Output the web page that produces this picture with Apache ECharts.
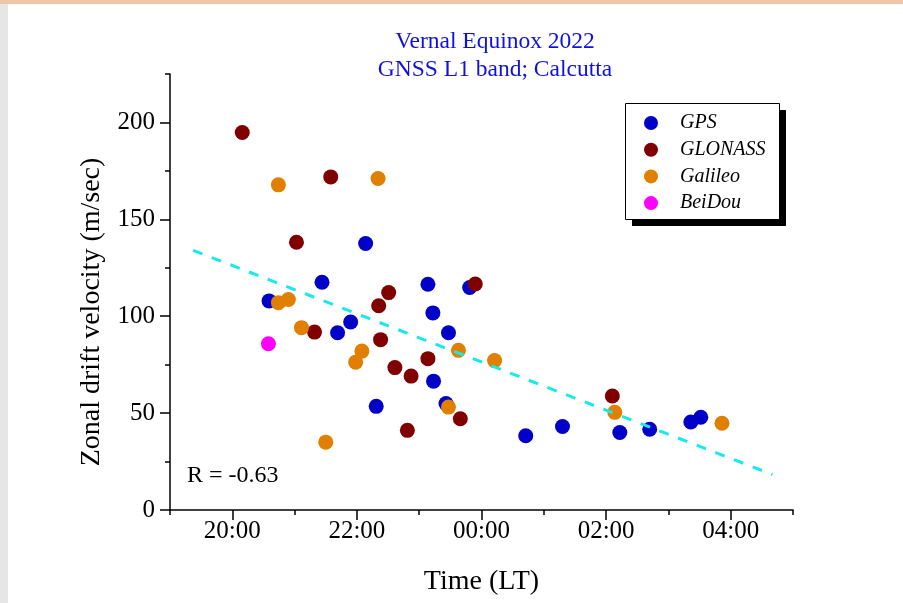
<!DOCTYPE html>
<html>
<head>
<meta charset="utf-8">
<title>Vernal Equinox 2022 — Zonal drift velocity</title>
<script src="https://cdn.jsdelivr.net/npm/echarts@6/dist/echarts.min.js"></script>
<style>
  html, body { margin: 0; padding: 0; background: #ffffff; }
  #wrap { position: relative; width: 903px; height: 603px; overflow: hidden; }
  #chart { position: absolute; left: 0; top: 0; width: 903px; height: 603px; }
  .band-top { position: absolute; left: 0; top: 0; width: 903px; height: 4px; background: #efc6a6; }
  .band-left { position: absolute; left: 0; top: 4px; width: 8px; height: 599px; background: #e6e6e6; }
</style>
</head>
<body>
<div id="wrap">
  <div id="chart"></div>
  <div class="band-top"></div>
  <div class="band-left"></div>
</div>
<script>
// Local time in decimal hours; values past midnight continue as 24, 25, ...
const gpsTime = [20.59, 21.44, 22.14, 21.69, 21.90, 22.31, 23.14, 23.22, 23.47, 23.23, 23.43, 23.81, 24.71, 25.30, 26.22, 26.70, 27.36, 27.52];
const gpsVel  = [107.9, 117.5, 137.5, 91.5, 97.0, 53.5, 116.5, 101.7, 91.5, 66.5, 54.9, 114.8, 38.3, 43.1, 40.0, 41.7, 45.4, 47.9];

const glonassTime = [20.16, 21.58, 21.03, 22.51, 22.35, 22.38, 21.32, 22.61, 22.87, 23.14, 22.81, 23.66, 23.90, 26.10];
const glonassVel  = [194.8, 171.9, 138.2, 112.2, 105.4, 87.9, 91.8, 73.5, 69.1, 78.1, 41.1, 47.1, 116.6, 58.8];

const galileoTime = [20.74, 22.34, 20.74, 20.90, 21.11, 22.08, 21.98, 23.63, 24.21, 23.47, 21.50, 26.14, 27.86];
const galileoVel  = [167.8, 171.1, 107.0, 108.6, 94.1, 82.0, 76.3, 82.4, 77.1, 53.1, 35.0, 50.4, 44.8];

const beidouTime = [20.58];
const beidouVel  = [85.8];

// Least-squares trend line end points
const trendTime = [19.37, 28.67];
const trendVel  = [134.0, 18.3];

// Axis ticks
const xMajorTicks = [20, 22, 24, 26, 28];
const xMinorTicks = [19, 21, 23, 25, 27, 29];
const yMajorTicks = [0, 50, 100, 150, 200];
const yMinorTicks = [25, 75, 125, 175, 225];

const correlationLabel = 'R = -0.63';

const SERIF = '"Liberation Serif", "DejaVu Serif", serif';

function pairs(xs, ys) { return xs.map((x, i) => [x, ys[i]]); }
function hourLabel(v) {
  const h = ((Math.round(v) % 24) + 24) % 24;
  return (h < 10 ? '0' : '') + h + ':00';
}

const chart = echarts.init(document.getElementById('chart'), null, { renderer: 'canvas' });

const axisLineStyle = { color: '#000', width: 1.5 };

const dot = (name, color, xs, ys, z) => ({
  name, type: 'scatter', symbol: 'circle', symbolSize: 15,
  xAxisIndex: 0, yAxisIndex: 0, z,
  itemStyle: { color, opacity: 1 },
  data: pairs(xs, ys)
});

// Legend frame geometry (box plus solid drop shadow)
const LEGEND_BOX = { x: 625, y: 103, w: 154, h: 116 };
const SHADOW_OFFSET = 7;

chart.setOption({
  animation: false,
  backgroundColor: 'transparent',
  title: {
    text: 'Vernal Equinox 2022\nGNSS L1 band; Calcutta',
    left: 490, top: 23, textAlign: 'center',
    textStyle: { fontFamily: SERIF, fontSize: 23.5, fontWeight: 'normal', color: '#1010e0', lineHeight: 28 }
  },
  grid: { left: 170, top: 74, width: 623, height: 436, containLabel: false },
  legend: {
    data: ['GPS', 'GLONASS', 'Galileo', 'BeiDou'],
    orient: 'vertical', left: LEGEND_BOX.x, top: LEGEND_BOX.y + 1,
    padding: [9, 12, 5, 19], itemGap: 6.7,
    itemWidth: 14, itemHeight: 14, icon: 'circle',
    backgroundColor: 'transparent', borderWidth: 0,
    textStyle: { fontFamily: SERIF, fontStyle: 'italic', fontSize: 20, color: '#000', lineHeight: 20, padding: [0, 0, 0, 17] }
  },
  xAxis: [{
    type: 'value', min: 19, max: 29, position: 'bottom',
    axisLine: { show: true, onZero: false, lineStyle: axisLineStyle },
    axisTick: { show: true, length: 10, customValues: xMajorTicks, lineStyle: axisLineStyle },
    axisLabel: { customValues: xMajorTicks, formatter: hourLabel, margin: 9, fontFamily: SERIF, fontSize: 25, color: '#000' },
    splitLine: { show: false },
    name: 'Time (LT)', nameLocation: 'middle', nameGap: 58,
    nameTextStyle: { fontFamily: SERIF, fontSize: 28, color: '#000' }
  }, {
    type: 'value', min: 19, max: 29, position: 'bottom', offset: 0,
    axisLine: { show: false },
    axisTick: { show: true, length: 5, customValues: xMinorTicks, lineStyle: axisLineStyle },
    axisLabel: { show: false },
    splitLine: { show: false }
  }],
  yAxis: [{
    type: 'value', min: 0, max: 225, position: 'left',
    axisLine: { show: true, onZero: false, lineStyle: axisLineStyle },
    axisTick: { show: true, length: 10, customValues: yMajorTicks, lineStyle: axisLineStyle },
    axisLabel: { customValues: yMajorTicks, margin: 15, fontFamily: SERIF, fontSize: 25, color: '#000' },
    splitLine: { show: false }
  }, {
    type: 'value', min: 0, max: 225, position: 'left', offset: 0,
    axisLine: { show: false },
    axisTick: { show: true, length: 5, customValues: yMinorTicks, lineStyle: axisLineStyle },
    axisLabel: { show: false },
    splitLine: { show: false }
  }],
  graphic: [{
    type: 'rect', z: 0,
    shape: { x: LEGEND_BOX.x + SHADOW_OFFSET, y: LEGEND_BOX.y + SHADOW_OFFSET, width: LEGEND_BOX.w, height: LEGEND_BOX.h },
    style: { fill: '#000' }
  }, {
    type: 'rect', z: 1,
    shape: { x: LEGEND_BOX.x + 0.5, y: LEGEND_BOX.y + 0.5, width: LEGEND_BOX.w, height: LEGEND_BOX.h },
    style: { fill: '#fff', stroke: '#000', lineWidth: 1 }
  }, {
    type: 'text', x: 92, y: 312, rotation: Math.PI / 2,
    style: { text: 'Zonal drift velocity (m/sec)', font: '28px ' + SERIF, fill: '#000', align: 'center', verticalAlign: 'middle' }
  }, {
    type: 'text', x: 187, y: 476,
    style: { text: correlationLabel, font: '24px ' + SERIF, fill: '#000', align: 'left', verticalAlign: 'middle' }
  }],
  series: [
    dot('GPS', '#0000c8', gpsTime, gpsVel, 2),
    dot('GLONASS', '#800000', glonassTime, glonassVel, 3),
    dot('Galileo', '#e07f00', galileoTime, galileoVel, 4),
    dot('BeiDou', '#ff00ff', beidouTime, beidouVel, 5),
    {
      name: 'Trend', type: 'line', xAxisIndex: 0, yAxisIndex: 0, z: 6,
      showSymbol: false, symbol: 'none', silent: true,
      lineStyle: { color: '#17e9ec', width: 3, type: [10, 10] },
      data: pairs(trendTime, trendVel)
    }
  ]
});
</script>
</body>
</html>
